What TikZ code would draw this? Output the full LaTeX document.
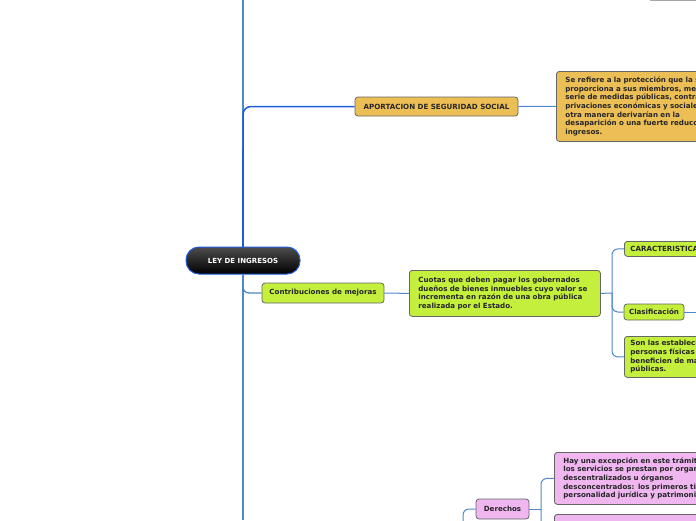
\documentclass[tikz,border=0pt]{standalone}
\usepackage{fontspec}
\setmainfont{DejaVu Sans}
\usetikzlibrary{positioning}
\definecolor{azulraiz}{HTML}{1F5CD8}
\definecolor{azulrama}{HTML}{4E88CA}
\definecolor{ocre}{HTML}{ECBE56}
\definecolor{lima}{HTML}{C4EF3C}
\definecolor{rosa}{HTML}{EFB6F0}
\begin{document}
\begin{tikzpicture}[x=1pt,y=-1pt,
    tema/.style={draw=black!60, rounded corners=3pt, line width=0.8pt, text=black!85,
      font=\bfseries\fontsize{7.1}{8.6}\selectfont, inner sep=0pt},
    nota/.style={tema, align=left, inner xsep=9pt, anchor=north west},
    rama/.style={draw=azulrama, line width=1pt, rounded corners=6pt},
    tronco/.style={draw=azulrama, line width=2pt}]
  \useasboundingbox (0,0) rectangle (696,520);
  \clip (0,0) rectangle (696,520);
  % nodo central
  \node[draw=azulraiz, line width=1pt, rounded corners=13pt, top color=black!70,
    bottom color=black, text=white, font=\bfseries\fontsize{7}{8}\selectfont,
    minimum width=114, minimum height=27] (raiz) at (243,260.5) {LEY DE INGRESOS};
  % rama de seguridad social
  \node[tema, fill=ocre, minimum width=163, minimum height=19] (aport) at (436.5,106.5)
    {APORTACION DE SEGURIDAD SOCIAL};
  \node[nota, fill=ocre, text width=200, minimum height=70] (aportnota) at (556,71)
    {Se refiere a la protección que la s\\proporciona a sus miembros, med\\serie de medidas públicas, contra\\privaciones económicas y sociales\\otra manera derivarían en la\\desaparición o una fuerte reducci\\ingresos.};
  % rama de contribuciones
  \node[tema, fill=lima, minimum width=122, minimum height=20] (contrib) at (323,293)
    {Contribuciones de mejoras};
  \node[nota, fill=lima, text width=173, minimum height=46] (cuotas) at (409,270)
    {Cuotas que deben pagar los gobernados\\dueños de bienes inmuebles cuyo valor se\\incrementa en razón de una obra pública\\realizada por el Estado.};
  \node[nota, fill=lima, text width=120, minimum height=15, inner xsep=6pt] (carac) at (624,241)
    {CARACTERISTICA};
  \node[tema, fill=lima, minimum width=60, minimum height=16] (clasif) at (654,312)
    {Clasificación};
  \node[nota, fill=lima, text width=120, minimum height=41, inner xsep=6pt] (sonlas) at (624,336)
    {Son las estableci\\personas físicas\\beneficien de ma\\públicas.};
  % rama de derechos
  \node[tema, fill=rosa, minimum width=53, minimum height=20] (derechos) at (502.5,509)
    {Derechos};
  \node[nota, fill=rosa, text width=200, minimum height=52] (hay) at (554,452)
    {Hay una excepción en este trámite\\los servicios se prestan por organi\\descentralizados u órganos\\desconcentrados: los primeros tie\\personalidad jurídica y patrimonio};
  \node[nota, fill=rosa, text width=200, minimum height=30] (rosados) at (554,514) {};
  % nodo fuera del cuadro, arriba
  \node[draw=gray!70, fill=white, line width=0.8pt, minimum width=70, minimum height=20,
    anchor=south west] (oculto) at (650,0.8) {};
  % puntos libres
  \coordinate (arriba) at (243,0);
  \coordinate (abajo) at (243,520);
  \coordinate (llave) at (612,293);
  \coordinate (clasifsal) at (700,312);
  \coordinate (derin) at (463,530);
  \coordinate (llavedos) at (541,509);
  % conectores
  \draw[tronco] (raiz.north) -- (arriba);
  \draw[azulraiz, line width=2pt] (raiz.north) -- (243,150);
  \draw[azulraiz, line width=1.5pt, rounded corners=8pt] (raiz.north) |- (aport.west);
  \draw[tronco] (raiz.south) -- (abajo);
  \draw[rama, line width=1.3pt] (raiz.south) |- (contrib.west);
  \draw[rama] (aport.east) -- (aportnota.west);
  \draw[rama] (contrib.east) -- (cuotas.west);
  \draw[rama] (cuotas.east) -- (llave);
  \draw[rama] (llave) |- (carac.west);
  \draw[rama] (llave) |- (clasif.west);
  \draw[rama] (llave) |- (sonlas.west);
  \draw[rama] (clasif.east) -- (clasifsal);
  \draw[rama] (derin) |- (derechos.west);
  \draw[rama] (derechos.east) -- (llavedos);
  \draw[rama] (llavedos) |- (hay.west);
  \draw[rama] (llavedos) |- (rosados.west);
\end{tikzpicture}
\end{document}
